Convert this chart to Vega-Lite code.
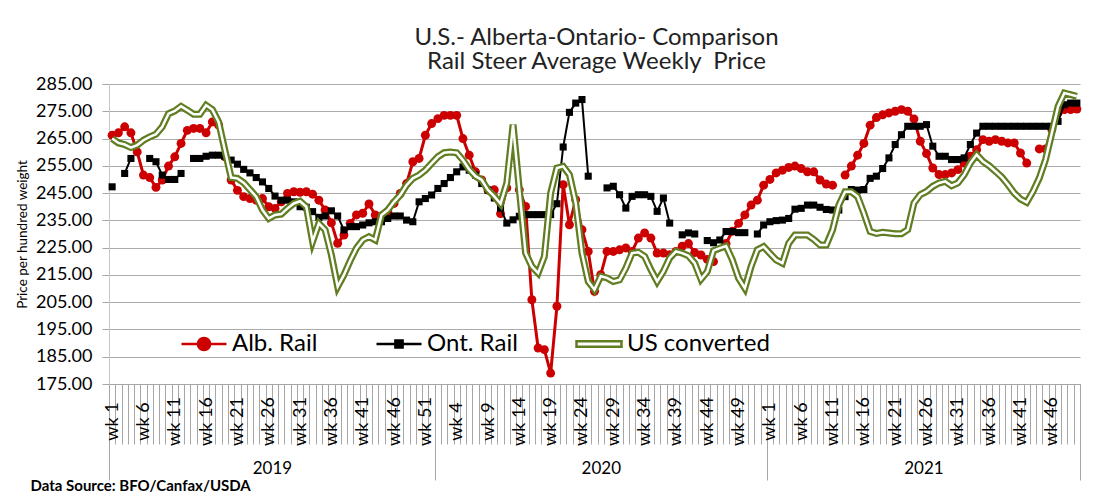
{
"$schema": "https://vega.github.io/schema/vega-lite/v6.json",
"width": 971, "height": 300,
"autosize": "none",
"padding": {"left": 109, "top": 84, "right": 15, "bottom": 109},
"background": "white",
"title": {"text": ["U.S.- Alberta-Ontario- Comparison", "Rail Steer Average Weekly\u00a0 Price"], "font": "Lato", "fontSize": 24, "fontWeight": "normal", "color": "#222222", "anchor": "middle", "offset": 1, "lineHeight": 24, "dx": 2},
"config": {"font": "Lato", "view": {"stroke": null}, "axis": {"labelFont": "Lato", "titleFont": "Lato", "labelColor": "#000000", "titleColor": "#000000"}},
"datasets": {
"prices": [
{"i":1,"a":266.2,"o":247.3,"u":265},{"i":2,"a":267.1,"o":null,"u":263.4},{"i":3,"a":269.3,"o":252.2,"u":262.8},{"i":4,"a":267.1,"o":257.7,"u":261.7},{"i":5,"a":260.1,"o":null,"u":262.6},
{"i":6,"a":251.6,"o":null,"u":264.4},{"i":7,"a":250.7,"o":257.7,"u":265.6},{"i":8,"a":247.1,"o":256.5,"u":266.6},{"i":9,"a":249.8,"o":251.6,"u":269.3},{"i":10,"a":254.9,"o":250,"u":274.1},
{"i":11,"a":258.3,"o":250,"u":275.1},{"i":12,"a":263.2,"o":252.2,"u":276.8},{"i":13,"a":268,"o":null,"u":275.4},{"i":14,"a":268.7,"o":257.7,"u":273.9},{"i":15,"a":268.7,"o":257.7,"u":273.9},
{"i":16,"a":267.1,"o":258.5,"u":277.2},{"i":17,"a":271.1,"o":258.9,"u":275.6},{"i":18,"a":269.9,"o":258.9,"u":271.1},{"i":19,"a":258.3,"o":258.5,"u":260.7},{"i":20,"a":249.8,"o":257.1,"u":250.7},
{"i":21,"a":246,"o":255.6,"u":250.4},{"i":22,"a":243.7,"o":253.7,"u":248.8},{"i":23,"a":243,"o":252.4,"u":246.3},{"i":24,"a":242.4,"o":250.7,"u":243.7},{"i":25,"a":243,"o":249.1,"u":238.8},
{"i":26,"a":240,"o":246.7,"u":235.7},{"i":27,"a":239.4,"o":243.9,"u":237},{"i":28,"a":241.8,"o":242.4,"u":237.3},{"i":29,"a":244.9,"o":242.4,"u":239.4},{"i":30,"a":245.5,"o":241.8,"u":241.2},
{"i":31,"a":245.3,"o":240,"u":242},{"i":32,"a":245.5,"o":239.8,"u":240},{"i":33,"a":244.6,"o":238.2,"u":227.2},{"i":34,"a":242.4,"o":236.1,"u":233.9},{"i":35,"a":238.8,"o":236.6,"u":231.5},
{"i":36,"a":234.1,"o":238.5,"u":222.3},{"i":37,"a":226.6,"o":236.6,"u":210.7},{"i":38,"a":229.6,"o":231.5,"u":215},{"i":39,"a":233.9,"o":232.7,"u":220.2},{"i":40,"a":237,"o":232.7,"u":224.8},
{"i":41,"a":237.6,"o":233.3,"u":227.8},{"i":42,"a":241,"o":234.1,"u":229},{"i":43,"a":237,"o":234.5,"u":227.8},{"i":44,"a":236.6,"o":234.5,"u":237},{"i":45,"a":238.2,"o":235.7,"u":238.8},
{"i":46,"a":241.2,"o":236.6,"u":241.8},{"i":47,"a":244.9,"o":236.6,"u":244.3},{"i":48,"a":248.5,"o":235.1,"u":247.9},{"i":49,"a":256.5,"o":234.5,"u":250.4},{"i":50,"a":257.7,"o":241.8,"u":251.6},
{"i":51,"a":266.2,"o":243,"u":253.4},{"i":52,"a":270.5,"o":244.3,"u":255.9},{"i":53,"a":272.3,"o":246.7,"u":258.3},{"i":54,"a":273.5,"o":248.5,"u":259.8},{"i":55,"a":273.5,"o":250.7,"u":260.1},
{"i":56,"a":273.5,"o":252.8,"u":259.8},{"i":57,"a":265,"o":254.6,"u":257.1},{"i":58,"a":258.9,"o":253.4,"u":253.7},{"i":59,"a":252.8,"o":251.6,"u":251.2},{"i":60,"a":249.8,"o":248.5,"u":249.8},
{"i":61,"a":246.1,"o":246.1,"u":246.1},{"i":62,"a":246.2,"o":243.2,"u":243.8},{"i":63,"a":237.5,"o":239.5,"u":241.1},{"i":64,"a":246.9,"o":234,"u":248.7},{"i":65,"a":264,"o":235.2,"u":270.1},
{"i":66,"a":246.2,"o":236.5,"u":246.2},{"i":67,"a":240.1,"o":237.1,"u":223},{"i":68,"a":205.9,"o":237.1,"u":218.1},{"i":69,"a":188.2,"o":237.1,"u":215.7},{"i":70,"a":187.6,"o":237.1,"u":221.8},
{"i":71,"a":179,"o":237.1,"u":245},{"i":72,"a":203.5,"o":241.1,"u":254.2},{"i":73,"a":248.1,"o":261.9,"u":254.8},{"i":74,"a":233.4,"o":274.6,"u":251.7},{"i":75,"a":242.6,"o":278,"u":241.4},
{"i":76,"a":231.6,"o":279.3,"u":223},{"i":77,"a":223.6,"o":251.2,"u":212.6},{"i":78,"a":209,"o":null,"u":209.6},{"i":79,"a":215.1,"o":null,"u":214.5},{"i":80,"a":223.6,"o":246.9,"u":213.9},
{"i":81,"a":223.6,"o":247.5,"u":212.6},{"i":82,"a":224.2,"o":244.4,"u":213.2},{"i":83,"a":224.9,"o":239.5,"u":217.5},{"i":84,"a":223.6,"o":243.8,"u":223},{"i":85,"a":228.5,"o":244.4,"u":223.3},
{"i":86,"a":230.4,"o":244.4,"u":221.8},{"i":87,"a":228.5,"o":243.8,"u":216.9},{"i":88,"a":223,"o":238.3,"u":212.6},{"i":89,"a":223,"o":243.2,"u":216.3},{"i":90,"a":222.4,"o":234,"u":221.2},
{"i":91,"a":223.6,"o":null,"u":223.6},{"i":92,"a":225.5,"o":229.7,"u":223},{"i":93,"a":226.5,"o":230.4,"u":222},{"i":94,"a":223.2,"o":230,"u":219.3},{"i":95,"a":222.3,"o":null,"u":213.4},
{"i":96,"a":220.7,"o":227.6,"u":216.2},{"i":97,"a":219.9,"o":226.8,"u":223.9},{"i":98,"a":null,"o":227.8,"u":224.8},{"i":99,"a":226.5,"o":230.9,"u":225.6},{"i":100,"a":231,"o":230.9,"u":220.5},
{"i":101,"a":233.9,"o":230.5,"u":213.8},{"i":102,"a":237,"o":230.5,"u":210.1},{"i":103,"a":240.6,"o":null,"u":218.1},{"i":104,"a":242.4,"o":230,"u":224.2},{"i":105,"a":247.9,"o":233.3,"u":225.4},
{"i":106,"a":250,"o":234.5,"u":222.9},{"i":107,"a":252.4,"o":234.9,"u":220.5},{"i":108,"a":253.4,"o":235.1,"u":219.3},{"i":109,"a":254.4,"o":235.7,"u":226.6},{"i":110,"a":254.9,"o":239.1,"u":229.6},
{"i":111,"a":254,"o":239.4,"u":229.6},{"i":112,"a":252.8,"o":240.6,"u":229.6},{"i":113,"a":252.8,"o":240.6,"u":228},{"i":114,"a":249.8,"o":239.8,"u":226},{"i":115,"a":248.3,"o":239,"u":226},
{"i":116,"a":247.9,"o":238.8,"u":231.5},{"i":117,"a":null,"o":238.8,"u":240.6},{"i":118,"a":251.6,"o":243.7,"u":245.5},{"i":119,"a":254.9,"o":246.3,"u":245.5},{"i":120,"a":258.9,"o":246.1,"u":243.7},
{"i":121,"a":263.2,"o":246.3,"u":237.6},{"i":122,"a":269.9,"o":250.4,"u":230.9},{"i":123,"a":272.7,"o":251.2,"u":230.2},{"i":124,"a":273.7,"o":254,"u":230.6},{"i":125,"a":274.4,"o":257.9,"u":230.4},
{"i":126,"a":275,"o":262.8,"u":230.1},{"i":127,"a":275.6,"o":266.4,"u":230.1},{"i":128,"a":275,"o":269.5,"u":231.6},{"i":129,"a":272.2,"o":269.5,"u":241.4},{"i":130,"a":264,"o":269.5,"u":244.4},
{"i":131,"a":259.5,"o":270.1,"u":245.6},{"i":132,"a":254.2,"o":262.2,"u":247.5},{"i":133,"a":251.8,"o":258.5,"u":248.7},{"i":134,"a":251.8,"o":258.5,"u":249.3},{"i":135,"a":252.4,"o":257.3,"u":247.7},
{"i":136,"a":253.6,"o":257.3,"u":248.7},{"i":137,"a":256,"o":257.9,"u":251.7},{"i":138,"a":258.5,"o":262.8,"u":256},{"i":139,"a":260.9,"o":267,"u":259.1},{"i":140,"a":264.6,"o":269.5,"u":256.6},
{"i":141,"a":264,"o":269.5,"u":255},{"i":142,"a":264.6,"o":269.5,"u":253},{"i":143,"a":264,"o":269.5,"u":250.9},{"i":144,"a":263.4,"o":269.5,"u":248.1},{"i":145,"a":263.4,"o":269.5,"u":245},
{"i":146,"a":259.7,"o":269.5,"u":242.8},{"i":147,"a":256,"o":269.5,"u":241.6},{"i":148,"a":null,"o":269.5,"u":245.6},{"i":149,"a":261.2,"o":269.5,"u":250.5},{"i":150,"a":261.2,"o":269.5,"u":257.3},
{"i":151,"a":268.3,"o":269.5,"u":267},{"i":152,"a":274.4,"o":271.3,"u":276.8},{"i":153,"a":275.6,"o":277.4,"u":281.7},{"i":154,"a":275.6,"o":278,"u":281.1},{"i":155,"a":275.8,"o":278,"u":280.5}
]
},
"layer": [
  {"data": {"name": "prices"},
   "mark": {"type": "line", "color": "#cc0000", "strokeWidth": 3, "invalid": "break-paths-show-domains"},
   "encoding": {
     "y": {"field": "a", "type": "quantitative", "scale": {"domain": [175, 285], "nice": false, "zero": false},
       "axis": {"orient": "left", "values": [175,185,195,205,215,225,235,245,255,265,275,285], "format": ".2f", "labelFontSize": 18, "labelPadding": 10, "tickSize": 7, "tickColor": "#a6a6a6", "domainColor": "#c8c8c8", "grid": true, "gridColor": "#ababab", "gridWidth": 1, "title": "Price per hundred weight", "titleFontSize": 13.5, "titleFontWeight": "normal", "titlePadding": 6}},
     "x": {"field": "i", "type": "quantitative", "scale": {"domain": [0.5, 155.5], "nice": false, "zero": false},
     "axis": {"orient": "bottom", "values": [26.5, 79, 130.5], "labelExpr": "datum.value < 52 ? '2019' : datum.value < 105 ? '2020' : '2021'", "ticks": false, "domain": false, "grid": false, "labelAngle": 0, "labelAlign": "center", "labelBaseline": "middle", "labelPadding": 84, "labelFontSize": 17, "labelOverlap": false, "title": null}}}},
  {"data": {"name": "prices"},
   "transform": [{"filter": "isValid(datum.a)"}],
   "mark": {"type": "point", "shape": "circle", "filled": true, "size": 80, "color": "#cc0000", "opacity": 1},
   "encoding": {
     "y": {"field": "a", "type": "quantitative", "scale": {"domain": [175, 285], "nice": false, "zero": false}, "axis": null},
     "x": {"field": "i", "type": "quantitative", "scale": {"domain": [0.5, 155.5], "nice": false, "zero": false}, "axis": null}}},
  {"data": {"name": "prices"},
   "mark": {"type": "line", "color": "#000000", "strokeWidth": 2, "invalid": "break-paths-show-domains"},
   "encoding": {
     "y": {"field": "o", "type": "quantitative", "scale": {"domain": [175, 285], "nice": false, "zero": false}, "axis": null},
     "x": {"field": "i", "type": "quantitative", "scale": {"domain": [0.5, 155.5], "nice": false, "zero": false},
     "axis": {"orient": "bottom", "values": [0.5, 52.5, 105.5, 155.5], "labels": false, "ticks": true, "tickSize": 96, "tickColor": "#a6a6a6", "domain": false, "grid": false, "title": "Data Source: BFO/Canfax/USDA", "titleX": -79, "titleY": 101, "titleAlign": "left", "titleAnchor": "start", "titleBaseline": "middle", "titleFontSize": 15, "titleFontWeight": "bold"}}}},
  {"data": {"name": "prices"},
   "transform": [{"filter": "isValid(datum.o)"}],
   "mark": {"type": "point", "shape": "square", "filled": true, "size": 50, "color": "#000000", "opacity": 1},
   "encoding": {
     "y": {"field": "o", "type": "quantitative", "scale": {"domain": [175, 285], "nice": false, "zero": false}, "axis": null},
     "x": {"field": "i", "type": "quantitative", "scale": {"domain": [0.5, 155.5], "nice": false, "zero": false}, "axis": null}}},
  {"data": {"name": "prices"},
   "mark": {"type": "line", "color": "#607d22", "strokeWidth": 7, "invalid": "break-paths-show-domains"},
   "encoding": {
     "y": {"field": "u", "type": "quantitative", "scale": {"domain": [175, 285], "nice": false, "zero": false}, "axis": null},
     "x": {"field": "i", "type": "quantitative", "scale": {"domain": [0.5, 155.5], "nice": false, "zero": false},
     "axis": {"orient": "bottom", "values": [0.5,1.5,2.5,3.5,4.5,5.5,6.5,7.5,8.5,9.5,10.5,11.5,12.5,13.5,14.5,15.5,16.5,17.5,18.5,19.5,20.5,21.5,22.5,23.5,24.5,25.5,26.5,27.5,28.5,29.5,30.5,31.5,32.5,33.5,34.5,35.5,36.5,37.5,38.5,39.5,40.5,41.5,42.5,43.5,44.5,45.5,46.5,47.5,48.5,49.5,50.5,51.5,52.5,53.5,54.5,55.5,56.5,57.5,58.5,59.5,60.5,61.5,62.5,63.5,64.5,65.5,66.5,67.5,68.5,69.5,70.5,71.5,72.5,73.5,74.5,75.5,76.5,77.5,78.5,79.5,80.5,81.5,82.5,83.5,84.5,85.5,86.5,87.5,88.5,89.5,90.5,91.5,92.5,93.5,94.5,95.5,96.5,97.5,98.5,99.5,100.5,101.5,102.5,103.5,104.5,105.5,106.5,107.5,108.5,109.5,110.5,111.5,112.5,113.5,114.5,115.5,116.5,117.5,118.5,119.5,120.5,121.5,122.5,123.5,124.5,125.5,126.5,127.5,128.5,129.5,130.5,131.5,132.5,133.5,134.5,135.5,136.5,137.5,138.5,139.5,140.5,141.5,142.5,143.5,144.5,145.5,146.5,147.5,148.5,149.5,150.5,151.5,152.5,153.5,154.5,155.5], "labels": false, "ticks": true, "tickSize": 60, "tickColor": "#a6a6a6", "domain": true, "domainColor": "#a6a6a6", "grid": false, "title": null}}}},
  {"data": {"name": "prices"},
   "mark": {"type": "line", "color": "#ffffff", "strokeWidth": 2.5, "invalid": "break-paths-show-domains"},
   "encoding": {
     "y": {"field": "u", "type": "quantitative", "scale": {"domain": [175, 285], "nice": false, "zero": false}, "axis": null},
     "x": {"field": "i", "type": "quantitative", "scale": {"domain": [0.5, 155.5], "nice": false, "zero": false},
     "axis": {"orient": "bottom", "values": [1,6,11,16,21,26,31,36,41,46,51,56,61,66,71,76,81,86,91,96,101,106,111,116,121,126,131,136,141,146,151], "labelExpr": "'wk ' + (datum.value <= 52 ? datum.value : datum.value <= 105 ? datum.value - 52 : datum.value - 105)", "ticks": false, "domain": false, "grid": false, "labelAngle": -90, "labelAlign": "center", "labelBaseline": "middle", "labelPadding": 37, "labelFontSize": 18, "labelOverlap": false, "labelBound": false, "title": null}}}},
  {"data": {"name": "prices"},
   "transform": [{"fold": ["a", "o", "u"], "as": ["s", "v"]}, {"filter": "datum.v > 1000"}],
   "mark": {"type": "point", "opacity": 1, "strokeWidth": 2.5},
   "encoding": {
     "x": {"field": "i", "type": "quantitative", "scale": {"domain": [0.5, 155.5], "nice": false, "zero": false}, "axis": null},
     "y": {"field": "v", "type": "quantitative", "scale": {"domain": [175, 285], "nice": false, "zero": false}, "axis": null},
     "fill": {"field": "s", "type": "nominal", "scale": {"domain": ["a", "o", "u"], "range": ["#cc0000", "#000000", "#ffffff"]},
       "legend": {"orient": "none", "legendX": 71, "legendY": 236, "direction": "horizontal", "title": null, "labelExpr": "datum.value === 'a' ? 'Alb. Rail' : datum.value === 'o' ? 'Ont. Rail' : 'US converted'", "labelFont": "Lato", "labelFontSize": 24, "labelColor": "#000000", "labelLimit": 0, "symbolSize": 2025, "symbolStrokeWidth": 2.5, "columnPadding": 53, "labelOffset": 4, "symbolOpacity": 1}},
     "stroke": {"field": "s", "type": "nominal", "scale": {"domain": ["a", "o", "u"], "range": ["#cc0000", "#000000", "#607d22"]},
       "legend": {"orient": "none", "legendX": 71, "legendY": 236, "direction": "horizontal", "title": null, "labelExpr": "datum.value === 'a' ? 'Alb. Rail' : datum.value === 'o' ? 'Ont. Rail' : 'US converted'", "labelFont": "Lato", "labelFontSize": 24, "labelColor": "#000000", "labelLimit": 0, "symbolSize": 2025, "symbolStrokeWidth": 2.5, "columnPadding": 53, "labelOffset": 4, "symbolOpacity": 1}},
     "shape": {"field": "s", "type": "nominal", "scale": {"domain": ["a", "o", "u"], "range": ["M-1,0H1M-0.27,0A0.27,0.27 0 1,0 0.27,0A0.27,0.27 0 1,0 -0.27,0Z", "M-1,0H1M-0.16,-0.16H0.16V0.16H-0.16Z", "M-1,-0.12H1V0.12H-1Z"]},
       "legend": {"orient": "none", "legendX": 71, "legendY": 236, "direction": "horizontal", "title": null, "labelExpr": "datum.value === 'a' ? 'Alb. Rail' : datum.value === 'o' ? 'Ont. Rail' : 'US converted'", "labelFont": "Lato", "labelFontSize": 24, "labelColor": "#000000", "labelLimit": 0, "symbolSize": 2025, "symbolStrokeWidth": 2.5, "columnPadding": 53, "labelOffset": 4, "symbolOpacity": 1}}
   }}
],
"resolve": {"axis": {"x": "independent", "y": "independent"}}
}
